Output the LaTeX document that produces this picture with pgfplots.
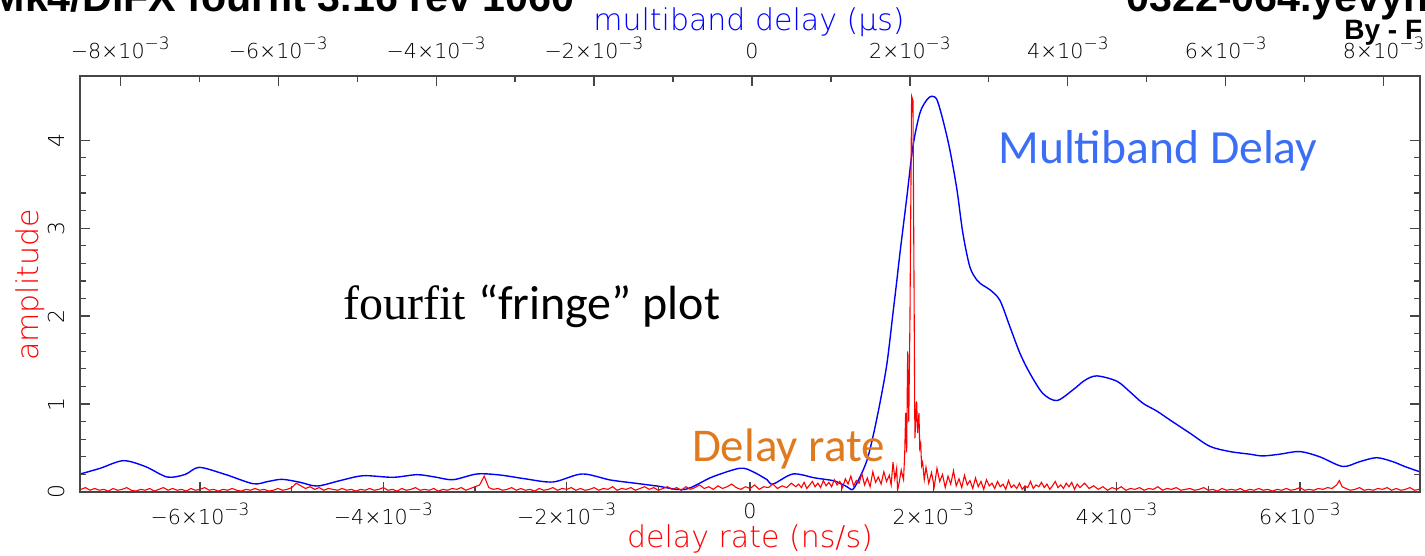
\documentclass[border=0pt]{standalone}
\usepackage{pgfplots}
\pgfplotsset{compat=1.18}
\usepackage{fontspec}
\setmainfont{DejaVu Sans}
\newfontfamily\hfont{DejaVuSans-ExtraLight.ttf}
\newfontfamily\cfont{Carlito}
\newfontfamily\sfont{Liberation Serif}
\newfontfamily\afont{Liberation Sans}
\definecolor{mbblue}{RGB}{59,110,245}
\definecolor{drorange}{RGB}{224,122,31}
\definecolor{axgray}{RGB}{70,70,70}
\newcommand\mexp{\raisebox{0.45em}{\fontsize{8.5}{9}\selectfont −3}}
\begin{document}
\begin{tikzpicture}
\useasboundingbox (0,0) rectangle (712.5pt,278pt);
% ---------- top axis: multiband delay (blue) ----------
\begin{axis}[
  at={(40pt,32pt)}, anchor=south west, scale only axis,
  width=670pt, height=208pt,
  xmin=-8.51, xmax=8.46, ymin=0, ymax=4.73,
  axis x line*=top, axis y line=none,
  axis line style={draw=axgray, line width=0.8pt},
  tick align=inside, major tick length=5pt, minor tick length=3pt,
  tick style={axgray, line width=0.6pt},
  xtick={-8,-6,-4,-2,0,2,4,6,8}, minor x tick num=1,
  xticklabels={{−8×10\mexp},{−6×10\mexp},{−4×10\mexp},{−2×10\mexp},{0},{2×10\mexp},{4×10\mexp},{6×10\mexp},{8×10\mexp}},
  xticklabel style={font=\hfont\fontsize{10.3}{12}\selectfont},
  xticklabel shift=5pt,
]
\addplot[blue, line width=0.7pt, smooth, tension=0.5] table {
x y
-8.506 0.205
-8.253 0.27
-7.962 0.356
-7.684 0.29
-7.405 0.17
-7.177 0.20
-7.000 0.28
-6.671 0.20
-6.316 0.094
-6.127 0.12
-5.949 0.144
-5.722 0.11
-5.506 0.068
-5.215 0.13
-4.924 0.185
-4.544 0.167
-4.241 0.197
-4.013 0.17
-3.785 0.14
-3.481 0.205
-3.190 0.193
-2.873 0.15
-2.519 0.114
-2.152 0.205
-1.797 0.137
-1.481 0.10
-1.203 0.068
-0.848 0.03
-0.506 0.17
-0.152 0.27
0.013 0.23
0.190 0.14
0.266 0.09
0.519 0.205
0.797 0.16
1.025 0.13
1.114 0.10
1.203 0.06
1.278 0.03
1.367 0.17
1.456 0.36
1.532 0.63
1.620 1.01
1.709 1.46
1.785 2.03
1.835 2.41
1.873 2.71
1.962 3.36
2.038 3.93
2.127 4.31
2.215 4.46
2.278 4.50
2.342 4.46
2.418 4.23
2.506 3.89
2.595 3.44
2.671 2.94
2.759 2.56
2.848 2.41
2.924 2.35
3.013 2.30
3.139 2.18
3.266 1.88
3.392 1.58
3.519 1.35
3.684 1.12
3.861 1.04
4.063 1.16
4.215 1.27
4.367 1.32
4.620 1.26
4.785 1.14
4.949 1.01
5.127 0.92
5.291 0.82
5.544 0.67
5.797 0.52
6.051 0.46
6.304 0.43
6.468 0.41
6.684 0.43
6.937 0.46
7.190 0.40
7.481 0.29
7.696 0.345
7.911 0.39
8.114 0.345
8.266 0.29
8.456 0.23
};
\end{axis}
% ---------- main axis: delay rate (red) ----------
\begin{axis}[
  at={(40pt,32pt)}, anchor=south west, scale only axis,
  width=670pt, height=208pt,
  xmin=-7.31, xmax=7.31, ymin=0, ymax=4.73,
  axis line style={draw=axgray, line width=0.8pt},
  tick align=inside, major tick length=5pt, minor tick length=3pt,
  tick style={axgray, line width=0.6pt},
  xtick={-6,-4,-2,0,2,4,6}, minor x tick num=1, xtick pos=left,
  xticklabels={{−6×10\mexp},{−4×10\mexp},{−2×10\mexp},{0},{2×10\mexp},{4×10\mexp},{6×10\mexp}},
  xticklabel style={font=\hfont\fontsize{10.3}{12}\selectfont},
  xticklabel shift=2pt,
  ytick={0,1,2,3,4}, yticklabels={0,1,2,3,4}, minor y tick num=4, ytick pos=both,
  yticklabel pos=left,
  yticklabel style={font=\hfont\fontsize{11}{12}\selectfont, rotate=90, anchor=south},
  yticklabel shift=4pt,
]
\addplot[red, line width=0.55pt] table {
x y
-7.30 0.03
-7.25 0.05
-7.20 0.02
-7.15 0.04
-7.10 0.02
-7.05 0.03
-7.00 0.01
-6.95 0.04
-6.90 0.02
-6.85 0.03
-6.80 0.05
-6.75 0.02
-6.70 0.01
-6.65 0.03
-6.60 0.02
-6.55 0.04
-6.50 0.01
-6.45 0.03
-6.40 0.05
-6.35 0.02
-6.30 0.04
-6.25 0.02
-6.20 0.03
-6.15 0.01
-6.10 0.04
-6.05 0.02
-6.00 0.03
-5.95 0.05
-5.90 0.02
-5.85 0.03
-5.80 0.01
-5.75 0.03
-5.70 0.02
-5.65 0.04
-5.60 0.02
-5.55 0.01
-5.50 0.03
-5.45 0.02
-5.40 0.04
-5.35 0.02
-5.30 0.03
-5.25 0.01
-5.20 0.02
-5.15 0.04
-5.10 0.02
-5.05 0.03
-5.00 0.05
-4.95 0.10
-4.90 0.07
-4.85 0.04
-4.80 0.06
-4.75 0.03
-4.70 0.05
-4.65 0.02
-4.60 0.04
-4.55 0.03
-4.50 0.02
-4.45 0.04
-4.40 0.02
-4.35 0.03
-4.30 0.01
-4.25 0.03
-4.20 0.02
-4.15 0.04
-4.10 0.02
-4.05 0.03
-4.00 0.05
-3.95 0.02
-3.90 0.03
-3.85 0.01
-3.80 0.04
-3.75 0.02
-3.70 0.03
-3.65 0.05
-3.60 0.02
-3.55 0.03
-3.50 0.02
-3.45 0.04
-3.40 0.01
-3.35 0.03
-3.30 0.02
-3.25 0.04
-3.20 0.03
-3.15 0.05
-3.10 0.02
-3.05 0.04
-3.00 0.06
-2.95 0.08
-2.90 0.18
-2.85 0.05
-2.80 0.03
-2.75 0.04
-2.70 0.02
-2.65 0.03
-2.60 0.05
-2.55 0.02
-2.50 0.04
-2.45 0.02
-2.40 0.03
-2.35 0.01
-2.30 0.04
-2.25 0.02
-2.20 0.03
-2.15 0.05
-2.10 0.02
-2.05 0.04
-2.00 0.03
-1.95 0.05
-1.90 0.02
-1.85 0.04
-1.80 0.02
-1.75 0.03
-1.70 0.05
-1.65 0.02
-1.60 0.04
-1.55 0.03
-1.50 0.06
-1.45 0.02
-1.40 0.04
-1.35 0.03
-1.30 0.05
-1.25 0.02
-1.20 0.04
-1.15 0.06
-1.10 0.03
-1.05 0.05
-1.00 0.02
-0.95 0.04
-0.90 0.06
-0.85 0.03
-0.80 0.05
-0.75 0.02
-0.70 0.06
-0.65 0.03
-0.60 0.05
-0.55 0.08
-0.50 0.04
-0.45 0.06
-0.40 0.03
-0.35 0.07
-0.30 0.04
-0.25 0.06
-0.20 0.09
-0.15 0.05
-0.10 0.03
-0.05 0.06
0.00 0.04
0.05 0.08
0.10 0.03
0.15 0.06
0.20 0.05
0.25 0.09
0.30 0.04
0.35 0.07
0.40 0.05
0.45 0.10
0.50 0.06
0.53 0.09
0.56 0.05
0.59 0.11
0.62 0.04
0.65 0.08
0.68 0.12
0.71 0.06
0.74 0.10
0.77 0.05
0.80 0.13
0.83 0.07
0.86 0.11
0.89 0.06
0.92 0.14
0.95 0.08
0.98 0.12
1.01 0.05
1.04 0.15
1.07 0.09
1.10 0.18
1.13 0.07
1.16 0.13
1.19 0.10
1.22 0.21
1.25 0.08
1.28 0.16
1.31 0.06
1.34 0.23
1.37 0.11
1.40 0.17
1.43 0.09
1.46 0.23
1.49 0.12
1.52 0.19
1.54 0.08
1.56 0.34
1.58 0.15
1.60 0.27
1.61 0.02
1.63 0.12
1.65 0.25
1.665 0.18
1.675 0.14
1.688 0.44
1.698 0.90
1.709 0.45
1.720 1.60
1.732 0.80
1.745 1.96
1.763 4.50
1.778 4.45
1.799 0.61
1.818 1.03
1.829 0.67
1.843 0.90
1.852 0.50
1.862 0.55
1.872 0.30
1.883 0.34
1.901 0.14
1.92 0.28
1.95 0.10
1.98 0.22
2.01 0.06
2.04 0.27
2.07 0.12
2.10 0.20
2.13 0.05
2.16 0.18
2.19 0.09
2.22 0.24
2.25 0.07
2.28 0.15
2.31 0.05
2.34 0.19
2.37 0.08
2.40 0.13
2.43 0.04
2.46 0.16
2.49 0.06
2.52 0.12
2.55 0.03
2.58 0.14
2.61 0.07
2.64 0.10
2.67 0.04
2.70 0.12
2.73 0.06
2.76 0.09
2.79 0.03
2.82 0.13
2.85 0.05
2.88 0.08
2.91 0.04
2.94 0.10
2.97 0.03
3.00 0.07
3.03 0.05
3.06 0.12
3.09 0.04
3.12 0.08
3.15 0.06
3.18 0.11
3.21 0.05
3.24 0.09
3.27 0.03
3.30 0.07
3.33 0.12
3.36 0.05
3.39 0.08
3.42 0.04
3.45 0.10
3.48 0.06
3.51 0.11
3.54 0.03
3.57 0.09
3.60 0.05
3.65 0.10
3.70 0.04
3.75 0.07
3.80 0.03
3.85 0.06
3.90 0.02
3.95 0.05
4.00 0.03
4.05 0.06
4.10 0.02
4.15 0.04
4.20 0.03
4.25 0.05
4.30 0.02
4.35 0.04
4.40 0.03
4.45 0.06
4.50 0.02
4.55 0.04
4.60 0.03
4.65 0.05
4.70 0.02
4.75 0.03
4.80 0.04
4.85 0.02
4.90 0.03
4.95 0.05
5.00 0.02
5.05 0.03
5.10 0.01
5.15 0.04
5.20 0.02
5.25 0.03
5.30 0.02
5.35 0.04
5.40 0.01
5.45 0.03
5.50 0.02
5.55 0.04
5.60 0.02
5.65 0.03
5.70 0.01
5.75 0.03
5.80 0.02
5.85 0.04
5.90 0.02
5.95 0.03
6.00 0.05
6.05 0.02
6.10 0.03
6.15 0.02
6.20 0.04
6.25 0.03
6.30 0.05
6.35 0.04
6.40 0.08
6.43 0.13
6.46 0.06
6.50 0.04
6.55 0.02
6.60 0.03
6.65 0.05
6.70 0.02
6.75 0.03
6.80 0.02
6.85 0.04
6.90 0.03
6.95 0.05
7.00 0.02
7.05 0.04
7.10 0.02
7.15 0.03
7.20 0.05
7.25 0.02
7.30 0.03
};
\end{axis}
% ---------- axis titles ----------
\node[font=\hfont\fontsize{15}{18}\selectfont, text=red] at (375pt,8.3pt) {delay rate (ns/s)};
\node[font=\hfont\fontsize{15}{18}\selectfont, text=blue] at (374.5pt,267pt) {multiband delay (μs)};
\node[font=\hfont\fontsize{15}{18}\selectfont, text=red, rotate=90] at (15pt,135.5pt) {amplitude};
% ---------- header (cut by the page edge) ----------
\node[font=\afont\bfseries\fontsize{20.6}{24}\selectfont, anchor=base east, inner sep=0] at (287.5pt,272pt) {Mk4/DiFX fourfit 3.16 rev 1060};
\node[font=\afont\bfseries\fontsize{20.6}{24}\selectfont, anchor=base west, inner sep=0] at (563pt,272pt) {0322-064.yevyn};
\node[font=\afont\bfseries\fontsize{14}{16}\selectfont, anchor=base west, inner sep=0] at (672pt,258pt) {By - F};
% ---------- annotations ----------
\node[font=\cfont\fontsize{23.8}{28}\selectfont, text=mbblue, anchor=base west, inner sep=0] at (499pt,196.3pt) {Multiband Delay};
\node[font=\cfont\fontsize{23.5}{28}\selectfont, text=drorange, anchor=base west, inner sep=0] at (345.8pt,47.2pt) {Delay rate};
\node[anchor=base west, inner sep=0] at (171.5pt,118pt) {\sfont\fontsize{24}{28}\selectfont fourfit \cfont “fringe” plot};
\end{tikzpicture}
\end{document}
